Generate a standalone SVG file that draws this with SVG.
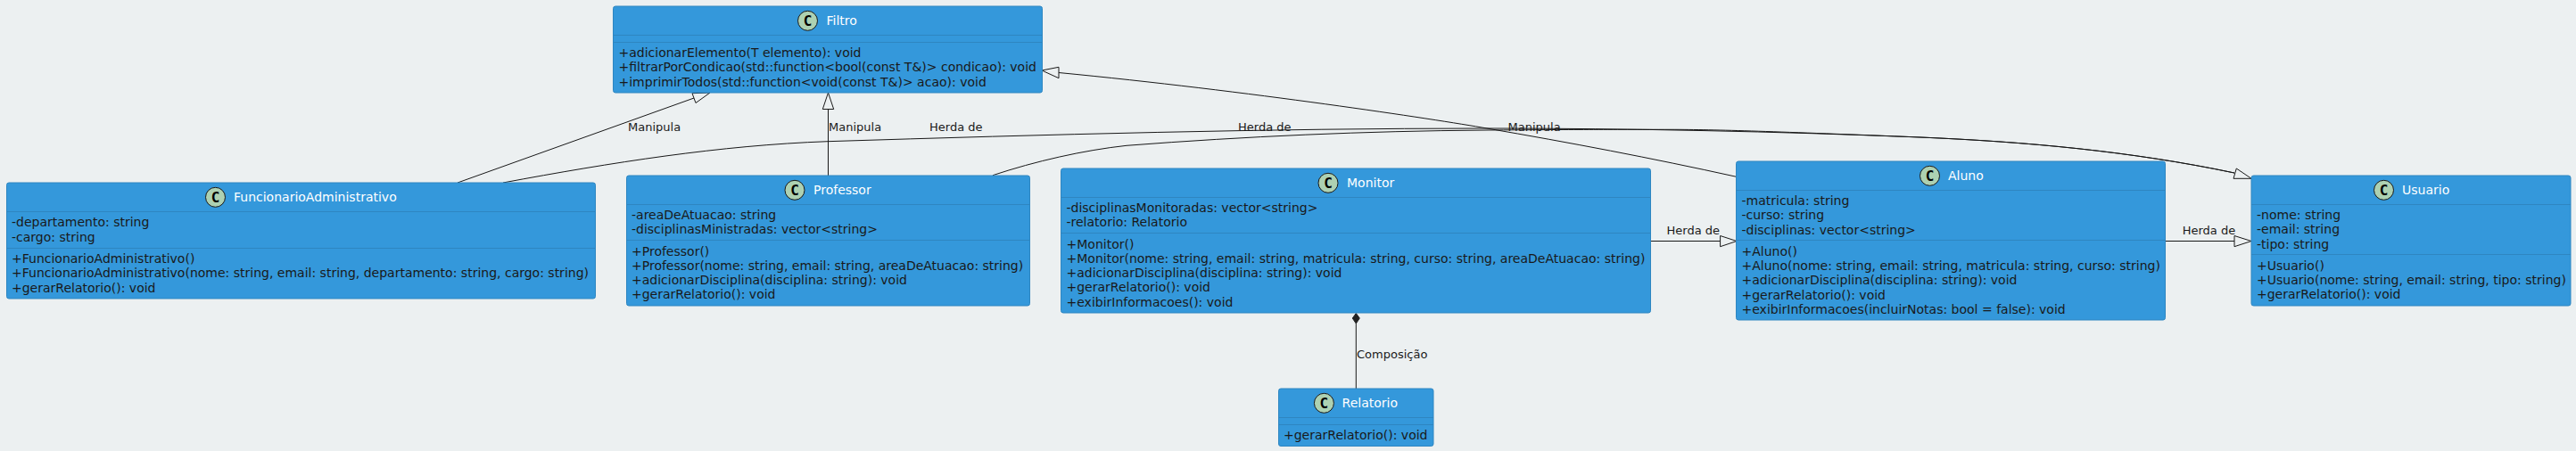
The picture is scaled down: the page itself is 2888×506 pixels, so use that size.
<svg xmlns="http://www.w3.org/2000/svg" width="2888" height="506" viewBox="0 0 2888 506">
<style>
text{font-family:"DejaVu Sans",sans-serif;font-size:14px;fill:#191919}
.name{fill:#fff}
.lbl{font-size:13px;fill:#191919}
.c{font-family:"DejaVu Sans Mono","DejaVu Sans",monospace;font-weight:bold;font-size:16px;text-anchor:middle;fill:#000}
.box{fill:#3498DB;stroke:#2E86C1;stroke-width:1}
.sep{stroke:#2E86C1;stroke-width:1;fill:none}
.spot{fill:#ADD1B2;stroke:#181818;stroke-width:1}
.edge{fill:none;stroke:#181818;stroke-width:1}
.head{fill:#ECF0F1;stroke:#181818;stroke-width:1}
.dia{fill:#222;stroke:#222;stroke-width:1}
</style>
<rect width="2888" height="506" fill="#ECF0F1"/>
<g id="connectors">
<path class="edge" d="M513,205 L778,110"/>
<polygon class="head" points="796,104 776,104.7 780,115.5"/>
<path class="edge" d="M928.5,197 L928.5,122.5"/>
<polygon class="head" points="928.5,104 922.3,122.5 934.7,122.5"/>
<path class="edge" d="M1946.7,198.3 C1850,177 1760,160 1667,144 C1610,134 1400,102 1187,81.5"/>
<polygon class="head" points="1168,79 1187,75.3 1187,87.7"/>
<path class="edge" d="M564,205 C685,182.5 807,163 928,158.7 C1174,151 1420,144 1667,144 C1830,144 1990,147.5 2153,154 C2270,159 2388,169.4 2505,194"/>
<path class="edge" d="M1113,196.7 C1160,181 1215,168.5 1263,163.3 C1397,153 1530,147 1667,146 C1770,145.3 1800,145.3 1873,145.3 C1925,145.3 1990,147.5 2153,154 C2270,159 2388,169.4 2505,194"/>
<polygon class="head" points="2524,200.3 2504,200.3 2507.3,189"/>
<path class="edge" d="M1850,270.5 L1928.6,270.5"/>
<polygon class="head" points="1947,270.5 1928.6,264.5 1928.6,276.7"/>
<path class="edge" d="M2427.5,270.5 L2505,270.5"/>
<polygon class="head" points="2524,270.5 2505,264.5 2505,276.7"/>
<path class="edge" d="M1520.3,363 L1520.3,436"/>
<polygon class="dia" points="1520.3,351.5 1524.3,357 1520.3,363 1516.3,357"/>
<text class="lbl" x="704" y="146.5">Manipula</text>
<text class="lbl" x="929" y="146.5">Manipula</text>
<text class="lbl" x="1042" y="146.5">Herda de</text>
<text class="lbl" x="1388" y="146.5">Herda de</text>
<text class="lbl" x="1690.5" y="146.5">Manipula</text>
<text class="lbl" x="1868.6" y="263">Herda de</text>
<text class="lbl" x="2446.7" y="263">Herda de</text>
<text class="lbl" x="1521" y="402">Composição</text>
</g>
<g id="Filtro">
<rect class="box" x="687.5" y="7" width="481" height="97" rx="2.5"/>
<circle class="spot" cx="905.5" cy="23.3" r="11"/><text class="c" x="905.5" y="29">C</text>
<text class="name" x="926.5" y="28">Filtro</text>
<path class="sep" d="M687.5,39.5H1168.5M687.5,47.5H1168.5"/>
<text x="693.5" y="64">+adicionarElemento(T elemento): void</text>
<text x="693.5" y="80">+filtrarPorCondicao(std::function&lt;bool(const T&amp;)&gt; condicao): void</text>
<text x="693.5" y="97">+imprimirTodos(std::function&lt;void(const T&amp;)&gt; acao): void</text>
</g>
<g id="FuncionarioAdministrativo">
<rect class="box" x="7.5" y="205" width="660" height="130" rx="2.5"/>
<circle class="spot" cx="241.5" cy="221.3" r="11"/><text class="c" x="241.5" y="227">C</text>
<text class="name" x="262" y="226">FuncionarioAdministrativo</text>
<path class="sep" d="M7.5,237.5H667.5M7.5,278.5H667.5"/>
<text x="13" y="254">-departamento: string</text>
<text x="13" y="271">-cargo: string</text>
<text x="13" y="295">+FuncionarioAdministrativo()</text>
<text x="13" y="311">+FuncionarioAdministrativo(nome: string, email: string, departamento: string, cargo: string)</text>
<text x="13" y="328">+gerarRelatorio(): void</text>
</g>
<g id="Professor">
<rect class="box" x="702.5" y="197" width="452" height="146" rx="2.5"/>
<circle class="spot" cx="891" cy="213.3" r="11"/><text class="c" x="891" y="219">C</text>
<text class="name" x="912" y="218">Professor</text>
<path class="sep" d="M702.5,229.5H1154.5M702.5,269.5H1154.5"/>
<text x="708" y="246">-areaDeAtuacao: string</text>
<text x="708" y="262">-disciplinasMinistradas: vector&lt;string&gt;</text>
<text x="708" y="287">+Professor()</text>
<text x="708" y="303">+Professor(nome: string, email: string, areaDeAtuacao: string)</text>
<text x="708" y="319">+adicionarDisciplina(disciplina: string): void</text>
<text x="708" y="335">+gerarRelatorio(): void</text>
</g>
<g id="Monitor">
<rect class="box" x="1189.5" y="189" width="661" height="162" rx="2.5"/>
<circle class="spot" cx="1489" cy="205.3" r="11"/><text class="c" x="1489" y="211">C</text>
<text class="name" x="1510" y="210">Monitor</text>
<path class="sep" d="M1189.5,221.5H1850.5M1189.5,261.5H1850.5"/>
<text x="1195.5" y="238">-disciplinasMonitoradas: vector&lt;string&gt;</text>
<text x="1195.5" y="254">-relatorio: Relatorio</text>
<text x="1195.5" y="279">+Monitor()</text>
<text x="1195.5" y="295">+Monitor(nome: string, email: string, matricula: string, curso: string, areaDeAtuacao: string)</text>
<text x="1195.5" y="311">+adicionarDisciplina(disciplina: string): void</text>
<text x="1195.5" y="327">+gerarRelatorio(): void</text>
<text x="1195.5" y="344">+exibirInformacoes(): void</text>
</g>
<g id="Relatorio">
<rect class="box" x="1433.5" y="436" width="173.5" height="64.5" rx="2.5"/>
<circle class="spot" cx="1484.4" cy="452.3" r="11"/><text class="c" x="1484.4" y="458">C</text>
<text class="name" x="1504.6" y="457">Relatorio</text>
<path class="sep" d="M1433.5,468.5H1607M1433.5,476.5H1607"/>
<text x="1439" y="493">+gerarRelatorio(): void</text>
</g>
<g id="Aluno">
<rect class="box" x="1946.5" y="181" width="481" height="178" rx="2.5"/>
<circle class="spot" cx="2163.5" cy="197.3" r="11"/><text class="c" x="2163.5" y="203">C</text>
<text class="name" x="2184" y="202">Aluno</text>
<path class="sep" d="M1946.5,213.5H2427.5M1946.5,269.5H2427.5"/>
<text x="1952.5" y="230">-matricula: string</text>
<text x="1952.5" y="246">-curso: string</text>
<text x="1952.5" y="263">-disciplinas: vector&lt;string&gt;</text>
<text x="1952.5" y="287">+Aluno()</text>
<text x="1952.5" y="303">+Aluno(nome: string, email: string, matricula: string, curso: string)</text>
<text x="1952.5" y="319">+adicionarDisciplina(disciplina: string): void</text>
<text x="1952.5" y="336">+gerarRelatorio(): void</text>
<text x="1952.5" y="352">+exibirInformacoes(incluirNotas: bool = false): void</text>
</g>
<g id="Usuario">
<rect class="box" x="2524" y="197" width="358" height="146" rx="2.5"/>
<circle class="spot" cx="2672.5" cy="213.3" r="11"/><text class="c" x="2672.5" y="219">C</text>
<text class="name" x="2693" y="218">Usuario</text>
<path class="sep" d="M2524,229.5H2882M2524,285.5H2882"/>
<text x="2530" y="246">-nome: string</text>
<text x="2530" y="262">-email: string</text>
<text x="2530" y="279">-tipo: string</text>
<text x="2530" y="303">+Usuario()</text>
<text x="2530" y="319">+Usuario(nome: string, email: string, tipo: string)</text>
<text x="2530" y="335">+gerarRelatorio(): void</text>
</g>
</svg>
